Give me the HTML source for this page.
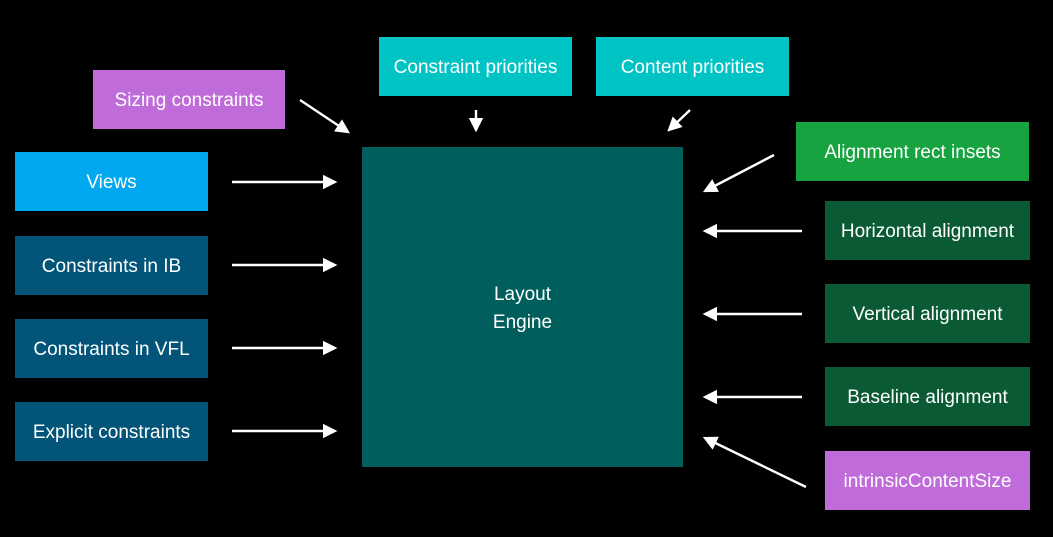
<!DOCTYPE html>
<html><head><style>
body{margin:0;width:1053px;height:537px;background:#000;position:relative;overflow:hidden;font-family:"Liberation Sans",sans-serif;}
.b{position:absolute;display:flex;align-items:center;justify-content:center;color:#fff;font-size:19px;text-align:center;line-height:28px;padding-top:3px;box-sizing:border-box;}
.p{background:#bf6bd9}.c{background:#00c4c4}.v{background:#00a8f0}.d{background:#025578}.g{background:#17a340}.dg{background:#0a5a34}
</style></head><body>
<div class="b p" style="left:93px;top:70px;width:192px;height:59px">Sizing constraints</div>
<div class="b c" style="left:379px;top:37px;width:193px;height:59px">Constraint priorities</div>
<div class="b c" style="left:596px;top:37px;width:193px;height:59px">Content priorities</div>
<div class="b v" style="left:15px;top:152px;width:193px;height:59px">Views</div>
<div class="b d" style="left:15px;top:236px;width:193px;height:59px">Constraints in IB</div>
<div class="b d" style="left:15px;top:319px;width:193px;height:59px">Constraints in VFL</div>
<div class="b d" style="left:15px;top:402px;width:193px;height:59px">Explicit constraints</div>
<div class="b" style="left:362px;top:147px;width:321px;height:320px;background:#005f5c">Layout<br>Engine</div>
<div class="b g" style="left:796px;top:122px;width:233px;height:59px">Alignment rect insets</div>
<div class="b dg" style="left:825px;top:201px;width:205px;height:59px">Horizontal alignment</div>
<div class="b dg" style="left:825px;top:284px;width:205px;height:59px">Vertical alignment</div>
<div class="b dg" style="left:825px;top:367px;width:205px;height:59px">Baseline alignment</div>
<div class="b p" style="left:825px;top:451px;width:205px;height:59px">intrinsicContentSize</div>
<svg width="1053" height="537" style="position:absolute;left:0;top:0">
<defs><marker id="a" markerWidth="6" markerHeight="6" refX="5" refY="3" orient="auto" markerUnits="strokeWidth"><path d="M0,0 L6,3 L0,6 z" fill="#fff"/></marker></defs>
<g stroke="#fff" stroke-width="2.4" marker-end="url(#a)">
<line x1="300" y1="100" x2="348" y2="132"/>
<line x1="476" y1="110" x2="476" y2="130"/>
<line x1="690" y1="110" x2="669" y2="130"/>
<line x1="232" y1="182" x2="335" y2="182"/>
<line x1="232" y1="265" x2="335" y2="265"/>
<line x1="232" y1="348" x2="335" y2="348"/>
<line x1="232" y1="431" x2="335" y2="431"/>
<line x1="774" y1="155" x2="705" y2="191"/>
<line x1="802" y1="231" x2="705" y2="231"/>
<line x1="802" y1="314" x2="705" y2="314"/>
<line x1="802" y1="397" x2="705" y2="397"/>
<line x1="806" y1="487" x2="705" y2="438"/>
</g></svg>
</body></html>
